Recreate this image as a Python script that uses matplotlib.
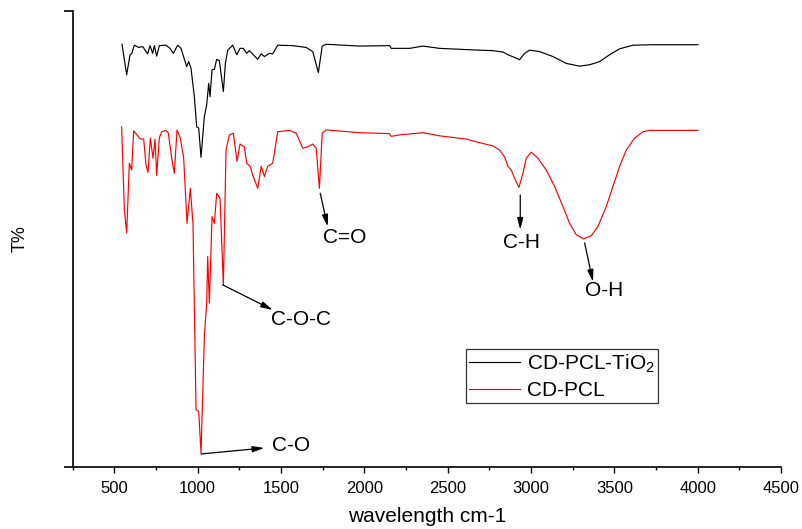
import matplotlib
matplotlib.use("Agg")
import matplotlib.pyplot as plt
from matplotlib.ticker import MultipleLocator

plt.rcParams["font.family"] = ["Liberation Sans", "DejaVu Sans"]
plt.rcParams["mathtext.default"] = "regular"

# CD-PCL-TiO2 spectrum (wavenumber, T%)
tio2_wn = [546, 574, 594, 604, 620, 646, 670, 700, 714, 730, 740, 754, 770, 810, 834,
           854, 880, 900, 934, 946, 960, 980, 994, 1006, 1020, 1040, 1054, 1066, 1074,
           1086, 1100, 1114, 1130, 1154, 1166, 1180, 1210, 1234, 1254, 1274, 1294, 1310,
           1334, 1360, 1381, 1400, 1430, 1450, 1480, 1570, 1651, 1690, 1724, 1747, 1771,
           1971, 2151, 2161, 2271, 2351, 2451, 2691, 2771, 2831, 2861, 2901, 2931, 2961,
           2991, 3051, 3131, 3211, 3291, 3351, 3411, 3471, 3531, 3611, 3731, 4001]
tio2_t = [92.7, 86.0, 90.4, 90.6, 92.5, 92.0, 92.2, 90.6, 92.4, 90.7, 92.4, 90.1, 92.4,
          92.5, 91.8, 90.7, 92.5, 91.8, 87.8, 88.9, 87.4, 81.2, 74.6, 74.3, 67.9, 76.8,
          79.4, 84.1, 81.2, 87.1, 87.2, 89.4, 89.1, 82.3, 88.5, 91.4, 92.5, 90.4, 91.8,
          91.8, 90.7, 91.3, 90.4, 89.4, 90.6, 90.0, 90.7, 90.6, 92.5, 92.4, 92.0, 91.1,
          86.5, 92.3, 92.7, 92.3, 92.4, 91.8, 91.8, 92.3, 91.8, 91.4, 91.3, 91.0, 90.4,
          89.8, 89.3, 90.7, 91.4, 91.1, 90.0, 88.5, 87.9, 88.2, 88.9, 90.4, 91.7, 92.5,
          92.6, 92.6]

# CD-PCL spectrum (wavenumber, T%)
pcl_wn = [544, 560, 574, 590, 604, 616, 636, 656, 676, 690, 702, 716, 732, 744, 754, 770,
          784, 810, 824, 844, 860, 876, 896, 916, 936, 956, 972, 990, 1006, 1020, 1040,
          1054, 1060, 1070, 1086, 1100, 1114, 1134, 1154, 1170, 1190, 1214, 1236, 1254,
          1280, 1294, 1315, 1330, 1360, 1381, 1400, 1420, 1450, 1480, 1550, 1591, 1630,
          1660, 1690, 1711, 1730, 1747, 1771, 1971, 2151, 2161, 2211, 2351, 2451, 2611,
          2691, 2771, 2811, 2841, 2861, 2881, 2901, 2927, 2951, 2971, 3001, 3041, 3091,
          3141, 3191, 3231, 3271, 3315, 3361, 3401, 3451, 3491, 3531, 3571, 3621, 3671,
          3711, 4001]
pcl_t = [74.6, 56.4, 51.3, 66.6, 65.1, 73.7, 72.8, 71.9, 71.9, 66.2, 64.6, 72.1, 67.7,
         71.9, 63.9, 72.2, 73.5, 73.8, 73.2, 67.7, 64.4, 73.9, 72.1, 67.7, 53.4, 61.1,
         53.1, 12.5, 12.1, 3.0, 28.6, 35.9, 46.1, 35.9, 54.9, 53.4, 60.0, 58.9, 39.9,
         69.5, 72.8, 73.2, 67.0, 70.8, 70.2, 66.6, 65.9, 64.0, 61.1, 65.9, 63.7, 65.9,
         66.6, 73.5, 73.8, 73.2, 69.9, 70.2, 70.8, 69.9, 61.1, 73.2, 73.9, 73.3, 73.1,
         72.5, 72.8, 73.3, 72.6, 71.9, 71.1, 70.4, 69.5, 68.0, 65.9, 65.1, 63.3, 61.3,
         64.4, 67.7, 69.0, 67.7, 65.1, 61.5, 57.1, 53.4, 50.9, 50.0, 50.7, 52.7, 57.1,
         61.5, 65.9, 69.5, 72.1, 73.5, 73.8, 73.8]

# peak labels: (text, arrow start, arrow tip, text position)
labels = ["C=O", "C-H", "O-H", "C-O-C", "C-O"]
starts = [(1735, 60.0), (2935, 59.6), (3321, 49.1), (1150, 39.9), (1020, 2.8)]
tips = [(1780, 52.7), (2935, 52.0), (3371, 40.6), (1450, 34.4), (1400, 4.1)]
text_pos = [(1880, 50.4), (2941, 49.3), (3441, 38.6), (1621, 32.4), (1561, 4.7)]

fig = plt.figure(figsize=(8.02, 5.29), dpi=100)
ax = fig.add_axes([0.0906, 0.1178, 0.8834, 0.8614])

ax.plot(tio2_wn, tio2_t, color="black", linewidth=0.85, label="CD-PCL-TiO$_2$")
ax.plot(pcl_wn, pcl_t, color="red", linewidth=0.85, label="CD-PCL")

for txt, s, t, p in zip(labels, starts, tips, text_pos):
    ax.annotate("", xy=t, xytext=s,
                arrowprops=dict(arrowstyle="-|>,head_length=0.7,head_width=0.18",
                                color="black", linewidth=0.9, shrinkA=0, shrinkB=0))
    ax.text(p[0], p[1], txt, fontsize=15, ha="center", va="center")

ax.set_xlim(250, 4500)
ax.set_ylim(0, 100)
ax.xaxis.set_major_locator(MultipleLocator(500))
ax.xaxis.set_minor_locator(MultipleLocator(250))
ax.set_xticks(range(500, 4501, 500))
ax.set_yticks([0, 100])
ax.set_yticklabels([])
ax.tick_params(axis="x", which="major", direction="out", length=4, width=1, labelsize=12, pad=6)
ax.tick_params(axis="x", which="minor", direction="out", length=2.5, width=1)
ax.tick_params(axis="y", direction="out", length=6.3, width=1.2)
for side in ["top", "right"]:
    ax.spines[side].set_visible(False)
for side in ["left", "bottom"]:
    ax.spines[side].set_linewidth(1.2)

ax.set_xlabel("wavelength cm-1", fontsize=15, labelpad=8)
ax.set_ylabel("T%", fontsize=13, labelpad=22)

leg = ax.legend(loc="upper left", bbox_to_anchor=(0.555, 0.258), borderaxespad=0,
                fontsize=15, frameon=True, fancybox=False, handlelength=2.45,
                handletextpad=0.35, borderpad=0.15, labelspacing=0.3)
leg.get_frame().set_edgecolor("black")
leg.get_frame().set_linewidth(0.9)

fig.savefig("out.png", dpi=100)
